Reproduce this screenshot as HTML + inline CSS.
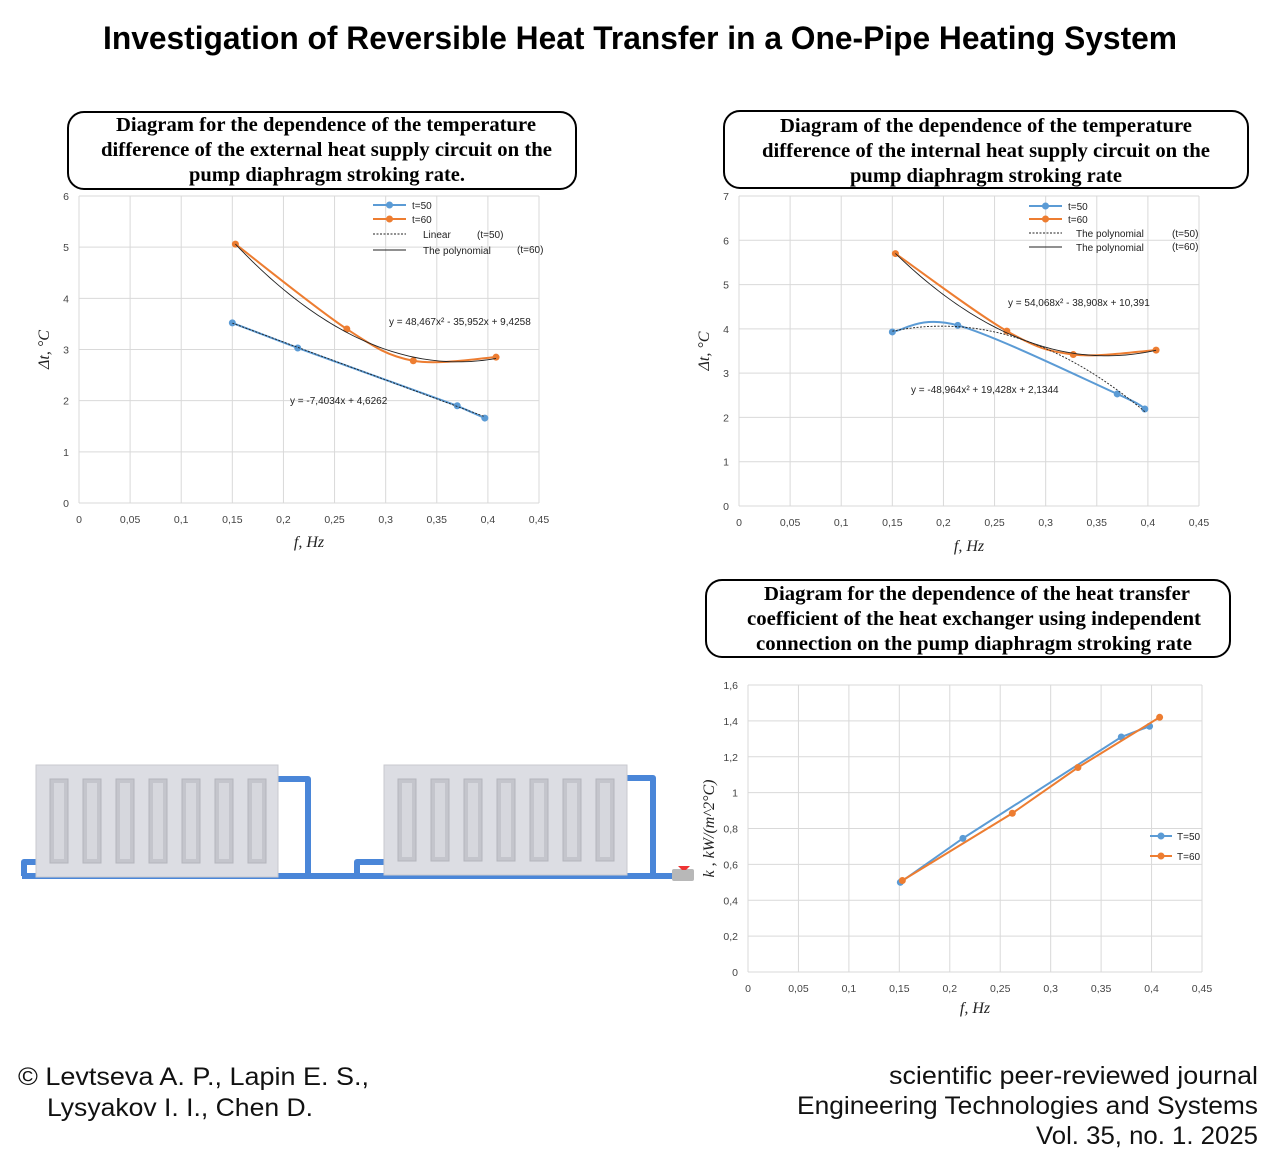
<!DOCTYPE html>
<html><head><meta charset="utf-8">
<style>
html,body{margin:0;padding:0;background:#fff;}
svg{display:block;}
.tick{font-family:"Liberation Sans",sans-serif;font-size:10.5px;fill:#444;}
.ttl{font-family:"Liberation Serif",serif;font-weight:bold;font-size:20px;fill:#000;}
.ax{font-family:"Liberation Serif",serif;font-style:italic;font-size:16px;fill:#222;}
.leg{font-family:"Liberation Sans",sans-serif;font-size:10px;fill:#222;}
.foot{font-family:"Liberation Sans",sans-serif;font-size:25px;fill:#111;}
</style></head><body>
<svg id="root" width="1280" height="1163" viewBox="0 0 1280 1163" xmlns="http://www.w3.org/2000/svg">
<text x="103" y="49" textLength="1074" lengthAdjust="spacingAndGlyphs" font-family="Liberation Sans, sans-serif" font-weight="bold" font-size="32">Investigation of Reversible Heat Transfer in a One-Pipe Heating System</text>

<g>
<rect x="68" y="112" width="508" height="77" rx="16" fill="#fff" stroke="#000" stroke-width="2"/>
<text class="ttl" x="116" y="131" textLength="420" lengthAdjust="spacingAndGlyphs">Diagram for the dependence of the temperature</text>
<text class="ttl" x="101" y="156" textLength="451" lengthAdjust="spacingAndGlyphs">difference of the external heat supply circuit on the</text>
<text class="ttl" x="189" y="181" textLength="276" lengthAdjust="spacingAndGlyphs">pump diaphragm stroking rate.</text>
</g>
<g>
<rect x="724" y="111" width="524" height="77" rx="16" fill="#fff" stroke="#000" stroke-width="2"/>
<text class="ttl" x="780" y="132" textLength="412" lengthAdjust="spacingAndGlyphs">Diagram of the dependence of the temperature</text>
<text class="ttl" x="762" y="157" textLength="448" lengthAdjust="spacingAndGlyphs">difference of the internal heat supply circuit on the</text>
<text class="ttl" x="850" y="182" textLength="272" lengthAdjust="spacingAndGlyphs">pump diaphragm stroking rate</text>
</g>
<g>
<rect x="706" y="580" width="524" height="77" rx="16" fill="#fff" stroke="#000" stroke-width="2"/>
<text class="ttl" x="764" y="600" textLength="426" lengthAdjust="spacingAndGlyphs">Diagram for the dependence of the heat transfer</text>
<text class="ttl" x="747" y="625" textLength="454" lengthAdjust="spacingAndGlyphs">coefficient of the heat exchanger using independent</text>
<text class="ttl" x="756" y="650" textLength="436" lengthAdjust="spacingAndGlyphs">connection on the pump diaphragm stroking rate</text>
</g>

<g id="rad"></g>
<g id="c1"></g>
<g id="c2"></g>
<g id="c3"></g>

<text class="foot" x="18" y="1085" textLength="351" lengthAdjust="spacingAndGlyphs">© Levtseva A. P., Lapin E. S.,</text>
<text class="foot" x="47" y="1116" textLength="266" lengthAdjust="spacingAndGlyphs">Lysyakov I. I., Chen D.</text>
<text class="foot" x="889" y="1084" textLength="369" lengthAdjust="spacingAndGlyphs">scientific peer-reviewed journal</text>
<text class="foot" x="797" y="1114" textLength="461" lengthAdjust="spacingAndGlyphs">Engineering Technologies and Systems</text>
<text class="foot" x="1036" y="1144" textLength="222" lengthAdjust="spacingAndGlyphs">Vol. 35, no. 1. 2025</text>
</svg>
<script>
// ---- data ----
const xTicks = ["0","0,05","0,1","0,15","0,2","0,25","0,3","0,35","0,4","0,45"];
const c1X50 = [0.15, 0.214, 0.37, 0.397];
const c1Y50 = [3.52, 3.03, 1.9, 1.66];
const c1X60 = [0.153, 0.262, 0.327, 0.408];
const c1Y60 = [5.06, 3.4, 2.78, 2.85];
const c1Lin = [-7.4034, 4.6262];
const c1Poly = [48.467, -35.952, 9.4258];
const c1YTicks = ["0","1","2","3","4","5","6"];
const c2X50 = [0.15, 0.214, 0.37, 0.397];
const c2Y50 = [3.93, 4.08, 2.53, 2.19];
const c2X60 = [0.153, 0.262, 0.327, 0.408];
const c2Y60 = [5.7, 3.95, 3.42, 3.52];
const c2Poly50 = [-48.964, 19.428, 2.1344];
const c2Poly60 = [54.068, -38.908, 10.391];
const c2YTicks = ["0","1","2","3","4","5","6","7"];
const c3X50 = [0.151, 0.213, 0.37, 0.398];
const c3Y50 = [0.5, 0.745, 1.31, 1.37];
const c3X60 = [0.153, 0.262, 0.327, 0.408];
const c3Y60 = [0.51, 0.885, 1.14, 1.42];
const c3YTicks = ["0","0,2","0,4","0,6","0,8","1","1,2","1,4","1,6"];

const NS="http://www.w3.org/2000/svg";
function mk(parent,tag,attrs,txt){const e=document.createElementNS(NS,tag);for(const k in attrs)e.setAttribute(k,attrs[k]);if(txt!==undefined)e.textContent=txt;parent.appendChild(e);return e;}
const BLUE="#5b9bd5", ORANGE="#ed7d31";

function chart(gid,L,R,T,B,yMax,yTicks,ylab,xlabY,ylabOff){
  const g=document.getElementById(gid);
  const sx=v=>L+(v/0.45)*(R-L), sy=v=>B-(v/yMax)*(B-T);
  const n=yTicks.length-1;
  for(let i=0;i<=n;i++){const y=B-i*(B-T)/n;
    const gl=mk(g,'line',{x1:L,x2:R,y1:y,y2:y,stroke:'#d9d9d9','stroke-width':1});
    
    
    const t=mk(g,'text',{class:'tick',x:L-10,y:y+4,'text-anchor':'end'},yTicks[i]);
    
    }
  for(let i=0;i<xTicks.length;i++){const x=L+i*(R-L)/9;
    const gl=mk(g,'line',{x1:x,x2:x,y1:T,y2:B,stroke:'#d9d9d9','stroke-width':1});
    
    
    const t=mk(g,'text',{class:'tick',x:x,y:B+20,'text-anchor':'middle'},xTicks[i]);
    
    }
  const xl=mk(g,'text',{class:'ax',x:(L+R)/2,y:xlabY,'text-anchor':'middle'},'f, Hz');
  
  
  const cy=(T+B)/2, cx=L-ylabOff;
  const yl=mk(g,'text',{class:'ax',x:cx,y:cy,'text-anchor':'middle',transform:`rotate(-90 ${cx} ${cy})`},ylab);
  
  
  return {g,sx,sy};
}
function smoothPath(pts){let d=`M${pts[0][0]},${pts[0][1]}`;
  for(let i=0;i<pts.length-1;i++){const p0=pts[i-1]||pts[i],p1=pts[i],p2=pts[i+1],p3=pts[i+2]||p2;
    const c1=[p1[0]+(p2[0]-p0[0])/6,p1[1]+(p2[1]-p0[1])/6],c2=[p2[0]-(p3[0]-p1[0])/6,p2[1]-(p3[1]-p1[1])/6];
    d+=` C${c1[0]},${c1[1]} ${c2[0]},${c2[1]} ${p2[0]},${p2[1]}`;}return d;}
function series(c,xs,ys,color,smooth,name){
  const pts=xs.map((x,i)=>[c.sx(x),c.sy(ys[i])]);
  const d=smooth?smoothPath(pts):'M'+pts.map(p=>p.join(',')).join(' L');
  const p=mk(c.g,'path',{d,fill:'none',stroke:color,'stroke-width':2});
  
  
  pts.forEach(q=>{const m=mk(c.g,'circle',{cx:q[0],cy:q[1],r:3.5,fill:color});
    
    });
}
function trend(c,f,x0,x1,dash,name){let d='';for(let i=0;i<=60;i++){const x=x0+(x1-x0)*i/60;d+=(i?' L':'M')+c.sx(x)+','+c.sy(f(x));}
  const p=mk(c.g,'path',{d,fill:'none',stroke:'#222','stroke-width':0.9,'stroke-dasharray':dash?'2,1.5':'none'});
  
  }
function legItem(g,x,y,color,label,marker,dash,len,gap){
  len=len||33;gap=gap||39;
  const l=mk(g,'line',{x1:x,x2:x+len,y1:y,y2:y,stroke:color,'stroke-width':marker?2:1,'stroke-dasharray':dash?'2,1.5':'none'});
  
  
  if(marker){mk(g,'circle',{cx:x+len/2,cy:y,r:3.5,fill:color});}
  const t=mk(g,'text',{class:'leg',x:x+gap,y:y+4},label);
  
  }
function txt(g,x,y,s,name){const t=mk(g,'text',{class:'leg',x,y},s);
  
  return t;}
const poly=c=>x=>c[0]*x*x+c[1]*x+c[2];

// chart 1
let c=chart('c1',79,539,196,503,6,c1YTicks,'Δt, °C',547,30);
series(c,c1X60,c1Y60,ORANGE,true,'t60');
series(c,c1X50,c1Y50,BLUE,false,'t50');
trend(c,x=>c1Lin[0]*x+c1Lin[1],0.15,0.397,true,'linear-trendline-t50');
trend(c,poly(c1Poly),0.153,0.408,false,'poly-trendline-t60');
legItem(c.g,373,205,BLUE,'t=50',true);legItem(c.g,373,219,ORANGE,'t=60',true);
legItem(c.g,373,234,'#222','Linear',false,true,33,50);legItem(c.g,373,250,'#222','The polynomial',false,false,33,50);
txt(c.g,477,238,'(t=50)','legend-note');txt(c.g,517,253,'(t=60)','legend-note');
txt(c.g,389,325,'y = 48,467x² - 35,952x + 9,4258','equation-label');
txt(c.g,290,404,'y = -7,4034x + 4,6262','equation-label');

// chart 2
c=chart('c2',739,1199,196,506,7,c2YTicks,'Δt, °C',551,30);
series(c,c2X60,c2Y60,ORANGE,true,'t60');
series(c,c2X50,c2Y50,BLUE,true,'t50');
trend(c,poly(c2Poly50),0.15,0.397,true,'poly-trendline-t50');
trend(c,poly(c2Poly60),0.153,0.408,false,'poly-trendline-t60');
legItem(c.g,1029,206,BLUE,'t=50',true);legItem(c.g,1029,219,ORANGE,'t=60',true);
legItem(c.g,1029,233,'#222','The polynomial',false,true,33,47);legItem(c.g,1029,247,'#222','The polynomial',false,false,33,47);
txt(c.g,1172,237,'(t=50)','legend-note');txt(c.g,1172,250,'(t=60)','legend-note');
txt(c.g,1008,306,'y = 54,068x² - 38,908x + 10,391','equation-label');
txt(c.g,911,393,'y = -48,964x² + 19,428x + 2,1344','equation-label');

// chart 3
c=chart('c3',748,1202,685,972,1.6,c3YTicks,'k , kW/(m^2°C)',1013,34);
series(c,c3X50,c3Y50,BLUE,false,'T50');
series(c,c3X60,c3Y60,ORANGE,false,'T60');
legItem(c.g,1150,836,BLUE,'T=50',true,false,22,27);legItem(c.g,1150,856,ORANGE,'T=60',true,false,22,27);

// radiator illustration
const r=document.getElementById('rad');
const PB="#4a86d8";
function pipe(d){const p=mk(r,'path',{d,fill:'none',stroke:PB,'stroke-width':6,'stroke-linejoin':'round'});
  
  }
pipe('M22,876 L675,876');
pipe('M274,779 L308,779 L308,876');
pipe('M624,778 L653,778 L653,876');
pipe('M24,876 L24,862 L40,862');
pipe('M357,876 L357,862 L385,862');
function radiator(x,y,w,h){const rg=mk(r,'g',{});
  
  
  mk(rg,'rect',{x,y,width:w,height:h,fill:'#dcdde3',stroke:'#c8c9cf'});
  for(let i=0;i<7;i++){mk(rg,'rect',{x:x+14+i*33,y:y+14,width:18,height:h-28,fill:'#c4c5cc',stroke:'#b4b5bc'});
    mk(rg,'rect',{x:x+18+i*33,y:y+18,width:10,height:h-36,fill:'#d6d7dd'});}}
radiator(36,765,242,112);radiator(384,765,243,110);
const v=mk(r,'rect',{x:672,y:869,width:22,height:12,fill:'#b8b8b8',rx:2});


mk(r,'path',{d:'M678,866 L690,866 L686,870 L682,870 Z',fill:'#e33'});
</script>
</body></html>
